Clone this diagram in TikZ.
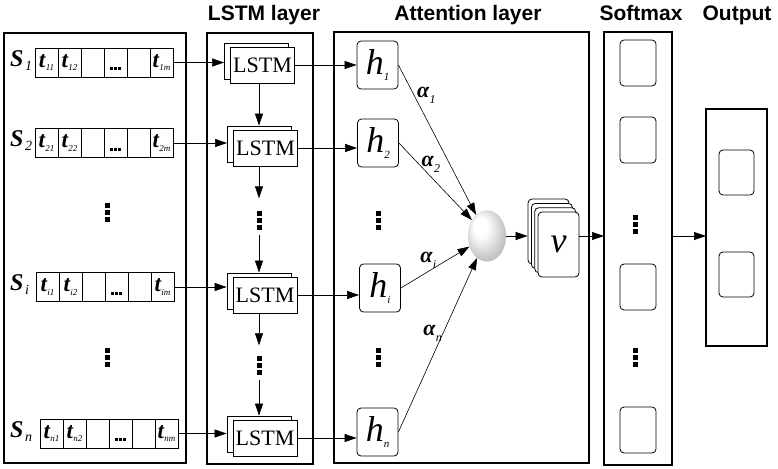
\documentclass[tikz,border=0pt]{standalone}
\usepackage{fontspec}
\setmainfont{Liberation Serif}
\setsansfont{Liberation Sans}
\usetikzlibrary{positioning,shapes.geometric,shadows,arrows.meta}

% labels with small lowered indices
\newcommand{\Ssub}[1]{\textbf{\textit{S}}\kern1.5pt\raisebox{-4pt}{\fontsize{14}{14}\selectfont\textit{#1}}}
\newcommand{\tsub}[1]{\textbf{\textit{t}}\raisebox{-3.5pt}{\fontsize{9}{9}\selectfont\textit{#1}}}
\newcommand{\hsub}[1]{\textit{h}\raisebox{-6pt}{\fontsize{11}{11}\selectfont\textit{#1}}}
\newcommand{\asub}[1]{\textbf{\textit{α}}\raisebox{-6pt}{\fontsize{12}{12}\selectfont\textit{#1}}}
% block dots
\newcommand{\vdotsq}{\vbox{\hrule width5pt height5pt\vskip2pt\hrule width5pt height5pt\vskip2pt\hrule width5pt height5pt}}
\newcommand{\hdotsq}{\rule[-8pt]{0pt}{16pt}\raisebox{-7.5pt}{\rule{3pt}{3pt}\kern1pt\rule{3pt}{3pt}\kern1pt\rule{3pt}{3pt}}}

% light sphere, highlight to the upper left
\pgfdeclareradialshading{softball}{\pgfpoint{-10bp}{10bp}}{%
  color(0bp)=(white); color(9bp)=(white); color(25bp)=(gray!40);
  color(38bp)=(gray!70); color(50bp)=(gray!70)}

\tikzset{
  layer/.style={draw, line width=1.4pt, inner sep=0pt, outer sep=0pt},
  title/.style={font=\sffamily\bfseries\fontsize{21}{21}\selectfont, anchor=base},
  slabel/.style={anchor=west, inner sep=0pt, font=\fontsize{24}{24}\selectfont},
  cell/.style={draw, line width=0.7pt, minimum width=23pt, minimum height=29pt,
    inner sep=0pt, outer sep=0pt, font=\fontsize{23}{23}\selectfont},
  lstm/.style={draw, fill=white, line width=0.8pt, minimum width=64pt, minimum height=36pt,
    inner sep=0pt, font=\fontsize{22}{22}\selectfont,
    copy shadow={shadow xshift=-6pt, shadow yshift=4pt, line width=0.8pt}},
  hbox/.style={draw, line width=0.8pt, rounded corners=4pt, minimum width=41pt,
    minimum height=48pt, inner sep=0pt, font=\fontsize{36}{36}\selectfont},
  sbox/.style={draw, line width=0.8pt, rounded corners=4pt, minimum width=36pt,
    minimum height=46pt, inner sep=0pt},
  vbox/.style={draw, fill=white, line width=0.8pt, rounded corners=4pt, minimum width=41pt,
    minimum height=65pt, inner sep=0pt, font=\fontsize{36}{36}\selectfont,
    copy shadow={shadow xshift=-10pt, shadow yshift=13pt, line width=0.8pt},
    copy shadow={shadow xshift=-6.6pt, shadow yshift=8.6pt, line width=0.8pt},
    copy shadow={shadow xshift=-3.3pt, shadow yshift=4.3pt, line width=0.8pt}},
  dotcol/.style={inner sep=0pt},
  alab/.style={inner sep=0pt, font=\fontsize{22}{22}\selectfont},
  link/.style={->, line width=0.6pt},
}

\begin{document}
\begin{tikzpicture}[x=1pt, y=-1pt, >={Triangle[length=12pt,width=8pt]}]
\useasboundingbox (0,0) rectangle (778,468);

% layers and their titles
\node[layer, minimum width=182pt, minimum height=430pt] (seqbox) at (95,248) {};
\node[layer, minimum width=106pt, minimum height=431pt] (lstmbox) at (260,248.5) {};
\node[layer, minimum width=255pt, minimum height=431pt] (attbox) at (461.5,247.5) {};
\node[layer, minimum width=68pt, minimum height=433pt] (soft) at (638,248.5) {};
\node[layer, minimum width=61pt, minimum height=237pt] (outbox) at (736.5,227.5) {};

\node[title] (tlstm) at (264,21) {LSTM layer};
\node[title] (tatt) at (468,21) {Attention layer};
\node[title] (tsoft) at (641,21) {Softmax};
\node[title] (tout) at (737,21) {Output};

% input sequences
\foreach \r/\sy/\sx/\ta/\tb/\tm in {1/62.5/35/11/12/1m, 2/143/35/21/22/2m,
    i/287/36/i1/i2/im, n/433.5/40/n1/n2/nm}{
  \node[slabel] (s\r) at (10,\sy-2) {\Ssub{\r}};
  \node[cell] (c\r1) at (\sx+11.5,\sy) {\tsub{\ta}};
  \node[cell, right=0pt of c\r1] (c\r2) {\tsub{\tb}};
  \node[cell, right=0pt of c\r2] (c\r3) {};
  \node[cell, right=0pt of c\r3] (c\r4) {\hdotsq};
  \node[cell, right=0pt of c\r4] (c\r5) {};
  \node[cell, right=0pt of c\r5] (c\r6) {\tsub{\tm}};
}
\node[dotcol] (sd1) at (107,212) {\vdotsq};
\node[dotcol] (sd2) at (107,357) {\vdotsq};

% LSTM cells
\node[lstm] (l1) at (262.5,65) {LSTM};
\node[lstm] (l2) at (265.5,148) {LSTM};
\node[lstm] (li) at (265,295) {LSTM};
\node[lstm] (ln) at (265,438) {LSTM};
\node[dotcol] (ld1) at (259,220) {\vdotsq};
\node[dotcol] (ld2) at (259,365) {\vdotsq};

% hidden states
\node[hbox] (h1) at (377.5,65) {\hsub{1}};
\node[hbox] (h2) at (378,143) {\hsub{2}};
\node[hbox] (hi) at (380,288) {\hsub{i}};
\node[hbox] (hn) at (377.5,432) {\hsub{n}};
\node[dotcol] (ad1) at (378,220) {\vdotsq};
\node[dotcol] (ad2) at (378,357) {\vdotsq};

% weighted sum and context vector
\node[ellipse, minimum width=38pt, minimum height=51pt, inner sep=0pt,
  shading=softball, draw=gray!50, densely dotted] (att) at (487,236) {};
\node[vbox] (vs) at (558.5,244.5) {\textit{v}};

% softmax and output units
\foreach \n/\sy in {1/63, 2/140, 3/287, 4/430}
  \node[sbox] (m\n) at (638,\sy) {};
\node[dotcol] (md1) at (635.5,224.5) {\vdotsq};
\node[dotcol] (md2) at (635.5,357.5) {\vdotsq};
\foreach \n/\sy in {1/172.5, 2/274.5}
  \node[sbox, minimum width=35pt, minimum height=45pt] (o\n) at (736.5,\sy) {};

% connections
\foreach \r in {1,2,i,n}{
  \draw[link, shorten >=6pt] (c\r6.east) -- (c\r6.east -| l\r.west);
  \draw[link] (l\r.east) -- (l\r.east -| h\r.west);
}
\draw[link, shorten >=4pt] (l1.south -| ld1) -- (l2.north -| ld1);
\draw[link, shorten >=12pt] (l2.south -| ld1) -- (ld1.north);
\draw[link, shorten <=5pt, shorten >=4pt] (ld1.south) -- (li.north -| ld1);
\draw[link, shorten >=10pt] (li.south -| ld2) -- (ld2.north);
\draw[link, shorten <=5pt, shorten >=4pt] (ld2.south) -- (ln.north -| ld2);

\draw[link] (h1.east) -- node[alab, pos=0.2, right=3pt] {\asub{1}} (att);
\draw[link] (h2.east) -- node[alab, pos=0.28, right=2pt] {\asub{2}} (att);
\draw[link] (hi.east) -- node[alab, pos=0.4, above=3pt] {\asub{i}} (att);
\draw[link] (hn.east) -- node[alab, pos=0.57, left=1pt] {\asub{n}} (att);

\draw[link, shorten >=10pt] (att.east) -- (att.east -| vs.west);
\draw[link] (vs.east |- att.east) -- (att.east -| soft.west);
\draw[link] (soft.east |- att.east) -- (att.east -| outbox.west);
\end{tikzpicture}
\end{document}
